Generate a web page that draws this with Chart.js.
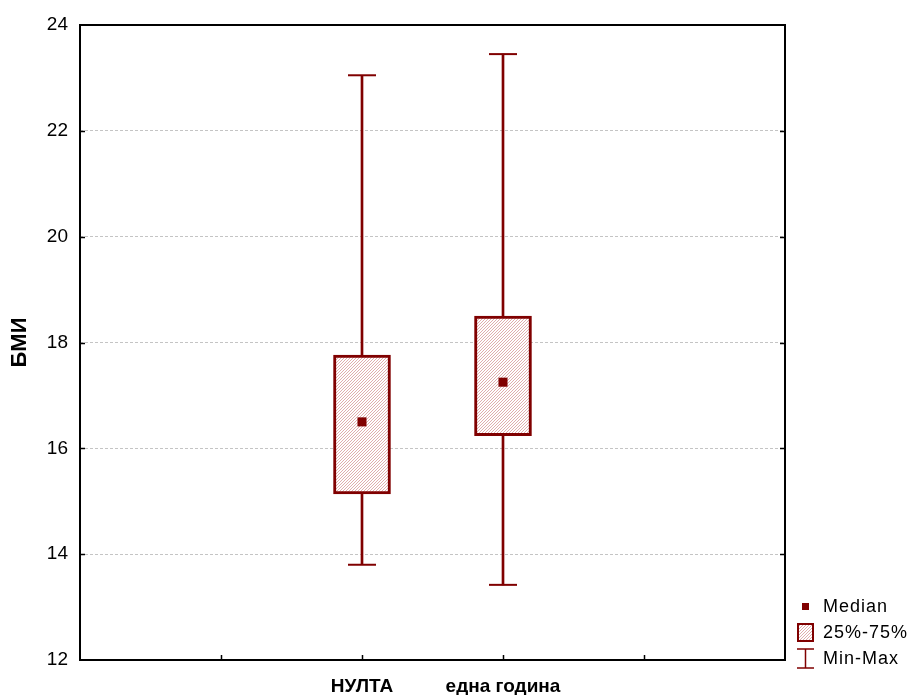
<!DOCTYPE html>
<html>
<head>
<meta charset="utf-8">
<script src="https://cdn.jsdelivr.net/npm/chart.js@4/dist/chart.umd.min.js"></script>
<style>
  html, body { margin: 0; padding: 0; background: #fff; }
</style>
</head>
<body>
<canvas id="boxChart" width="911" height="695"></canvas>
<script>
// Box plot data
const categories = ['НУЛТА', 'една година'];
const xPositions = [2, 3];          // place on the 0..5 x axis
const medians = [16.5, 17.25];
const q1 = [15.14, 16.24];
const q3 = [17.76, 18.5];
const mins = [13.8, 13.42];
const maxs = [23.05, 23.45];
const yTitle = 'БМИ';
const legendLabels = ['Median', '25%-75%', 'Min-Max'];

const RED = '#800000';

// Hatched fill for the boxes
function makeHatch() {
    const c = document.createElement('canvas');
    c.width = 3; c.height = 3;
    const g = c.getContext('2d');
    g.fillStyle = '#fff';
    g.fillRect(0, 0, 3, 3);
    g.strokeStyle = 'rgba(190,90,90,0.55)';
    g.lineWidth = 0.9;
    g.beginPath();
    g.moveTo(0, 3); g.lineTo(3, 0);
    g.moveTo(-1, 1); g.lineTo(1, -1);
    g.moveTo(2, 4); g.lineTo(4, 2);
    g.stroke();
    return g.createPattern(c, 'repeat');
}
const hatch = makeHatch();

// Frame, inner tick marks and the legend
const framePlugin = {
    id: 'frame',
    afterDraw(chart) {
        const ctx = chart.ctx;
        const a = chart.chartArea;
        const xs = chart.scales.x, ys = chart.scales.y;
        ctx.save();
        ctx.strokeStyle = '#000';
        ctx.lineWidth = 2;
        ctx.strokeRect(a.left, a.top, a.right - a.left, a.bottom - a.top);

        ctx.lineWidth = 1.5;
        ctx.beginPath();
        xs.ticks.forEach(t => {
            if (t.value <= xs.min || t.value >= xs.max) return;
            const px = Math.round(xs.getPixelForValue(t.value)) + 0.5;
            ctx.moveTo(px, a.bottom); ctx.lineTo(px, a.bottom - 5);
        });
        ys.ticks.forEach(t => {
            if (t.value <= ys.min || t.value >= ys.max) return;
            const py = Math.round(ys.getPixelForValue(t.value)) + 0.5;
            ctx.moveTo(a.left, py); ctx.lineTo(a.left + 5, py);
            ctx.moveTo(a.right, py); ctx.lineTo(a.right - 5, py);
        });
        ctx.stroke();

        // legend
        const lx = 797;
        ctx.fillStyle = RED;
        ctx.fillRect(802, 603, 7, 7);

        ctx.fillStyle = hatch;
        ctx.fillRect(798, 624, 15, 17);
        ctx.strokeStyle = RED;
        ctx.lineWidth = 2;
        ctx.strokeRect(798, 624, 15, 17);

        ctx.lineWidth = 1.5;
        ctx.beginPath();
        ctx.moveTo(805.5, 649); ctx.lineTo(805.5, 668);
        ctx.moveTo(lx, 649); ctx.lineTo(lx + 17, 649);
        ctx.moveTo(lx, 668); ctx.lineTo(lx + 17, 668);
        ctx.stroke();

        ctx.fillStyle = '#000';
        ctx.font = '18px "Liberation Sans", Arial, sans-serif';
        if ('letterSpacing' in ctx) ctx.letterSpacing = '1px';
        ctx.textBaseline = 'middle';
        ctx.textAlign = 'left';
        [607, 633, 659].forEach((y, i) => ctx.fillText(legendLabels[i], 823, y));
        ctx.restore();
    }
};

const ctx = document.getElementById('boxChart');
new Chart(ctx, {
    type: 'bar',
    data: {
        datasets: [
            {
                // whiskers
                type: 'bar',
                data: xPositions.map((x, i) => ({ x: x, y: [mins[i], maxs[i]] })),
                backgroundColor: RED,
                barThickness: 2,
                grouped: false,
                order: 3
            },
            {
                // 25%-75% boxes
                type: 'bar',
                data: xPositions.map((x, i) => ({ x: x, y: [q1[i], q3[i]] })),
                backgroundColor: hatch,
                borderColor: RED,
                borderWidth: 3,
                borderSkipped: false,
                barThickness: 57,
                grouped: false,
                order: 2
            },
            {
                // whisker caps
                type: 'line',
                data: xPositions.flatMap((x, i) => [{ x: x, y: mins[i] }, { x: x, y: maxs[i] }]),
                showLine: false,
                pointStyle: 'line',
                pointRadius: 14,
                pointBorderColor: RED,
                pointBorderWidth: 2,
                order: 1
            },
            {
                // medians
                type: 'line',
                data: xPositions.map((x, i) => ({ x: x, y: medians[i] })),
                showLine: false,
                pointStyle: 'rect',
                pointRadius: 6.4,
                pointBackgroundColor: RED,
                pointBorderWidth: 0,
                order: 0
            }
        ]
    },
    options: {
        responsive: false,
        animation: false,
        layout: { padding: { top: 25, right: 126, bottom: 0, left: 0 } },
        plugins: {
            legend: { display: false },
            tooltip: { enabled: false }
        },
        scales: {
            x: {
                type: 'linear',
                min: 0,
                max: 5,
                offset: false,
                grid: { display: false, drawTicks: false },
                border: { display: false },
                afterFit(s) { s.height = 35; },
                ticks: {
                    stepSize: 1,
                    padding: 15,
                    color: '#000',
                    font: { family: '"Liberation Sans", Arial, sans-serif', size: 19, weight: 'bold' },
                    callback: v => {
                        const i = xPositions.indexOf(v);
                        return i >= 0 ? categories[i] : '';
                    }
                }
            },
            y: {
                min: 12,
                max: 24,
                grid: { color: '#c4c4c4', lineWidth: 1, drawTicks: false },
                border: { display: false, dash: [3, 2] },
                afterFit(s) { s.width = 80; },
                ticks: {
                    stepSize: 2,
                    padding: 12,
                    color: '#000',
                    font: { family: '"Liberation Sans", Arial, sans-serif', size: 19 }
                },
                title: {
                    display: true,
                    text: yTitle,
                    color: '#000',
                    padding: { top: 7, bottom: 0 },
                    font: { family: '"Liberation Sans", Arial, sans-serif', size: 22, weight: 'bold' }
                }
            }
        }
    },
    plugins: [framePlugin]
});
</script>
</body>
</html>
